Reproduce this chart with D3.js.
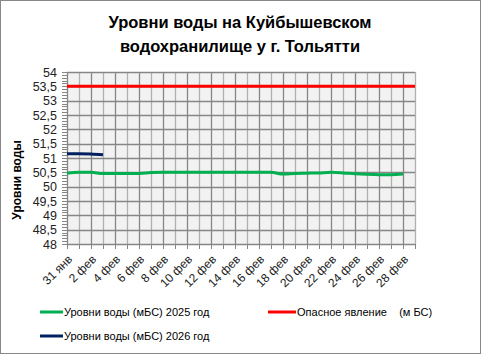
<!DOCTYPE html>
<html><head><meta charset="utf-8">
<script src="https://cdn.jsdelivr.net/npm/d3@7"></script>
<style>
body{margin:0;background:#fff;}
svg{display:block;font-family:"Liberation Sans",Arial,sans-serif;}
</style></head>
<body><svg id="c" width="481" height="354"></svg>
<script>
const categories = ["31 янв","1 фев","2 фев","3 фев","4 фев","5 фев","6 фев","7 фев","8 фев","9 фев","10 фев","11 фев","12 фев","13 фев","14 фев","15 фев","16 фев","17 фев","18 фев","19 фев","20 фев","21 фев","22 фев","23 фев","24 фев","25 фев","26 фев","27 фев","28 фев","1 мар"];
const levels2025 = [50.47,50.5,50.5,50.46,50.46,50.46,50.46,50.49,50.5,50.5,50.5,50.5,50.5,50.5,50.5,50.5,50.5,50.5,50.44,50.46,50.47,50.48,50.5,50.48,50.45,50.43,50.42,50.42,50.44];
const levels2026 = [51.15,51.15,51.14,51.11];
const danger = categories.map(() => 53.5);
const yTicks = [48,48.5,49,49.5,50,50.5,51,51.5,52,52.5,53,53.5,54];
const seriesNames = ["Уровни воды (мБС) 2025 год","Опасное явление    (м БС)","Уровни воды (мБС) 2026 год"];

const svg = d3.select("#c");
const L=67,R=415,T=72,B=244;
svg.append("rect").attr("x",0.5).attr("y",0.5).attr("width",480).attr("height",353).attr("fill","#fff").attr("stroke","#888");

const x = d3.scalePoint().domain(d3.range(categories.length)).range([L,R]);
const y = d3.scaleLinear().domain([48,54]).range([B,T]);

svg.append("rect").attr("x",L).attr("y",T).attr("width",R-L).attr("height",B-T).attr("fill","#f2f2f2");

// vertical gridlines
svg.append("g").selectAll("line").data(d3.range(categories.length)).join("line")
  .attr("x1",d=>x(d)+0.5).attr("x2",d=>x(d)+0.5).attr("y1",T).attr("y2",B)
  .attr("stroke",d=>d%2===0?"#868686":"#b0b0b0").attr("stroke-width",1.3);
// horizontal gridlines
svg.append("g").selectAll("line").data(yTicks).join("line")
  .attr("x1",L).attr("x2",R).attr("y1",d=>Math.round(y(d))+0.5).attr("y2",d=>Math.round(y(d))+0.5)
  .attr("stroke","#868686").attr("stroke-width",1.3);

// y axis
svg.append("line").attr("x1",L+0.5).attr("x2",L+0.5).attr("y1",T).attr("y2",B).attr("stroke","#868686");
const minor = d3.range(48,54.001,0.1);
svg.append("g").selectAll("line").data(minor).join("line")
  .attr("x1",L-5).attr("x2",L).attr("y1",d=>Math.round(y(d))+0.5).attr("y2",d=>Math.round(y(d))+0.5)
  .attr("stroke","#868686");
svg.append("g").selectAll("text").data(yTicks).join("text")
  .attr("x",57).attr("y",d=>y(d)+4.5).attr("text-anchor","end")
  .attr("font-size",12.5).attr("fill","#222")
  .text(d=>String(d).replace(".",","));

// x axis
svg.append("line").attr("x1",L).attr("x2",R).attr("y1",B+0.5).attr("y2",B+0.5).attr("stroke","#868686");
svg.append("g").selectAll("line").data(d3.range(categories.length)).join("line")
  .attr("x1",d=>x(d)+0.5).attr("x2",d=>x(d)+0.5).attr("y1",B).attr("y2",B+5).attr("stroke","#868686");
svg.append("g").selectAll("text").data(d3.range(0,categories.length,2).filter(i=>i<29)).join("text")
  .attr("transform",d=>`translate(${x(d)+6},${B+16}) rotate(-45)`)
  .attr("text-anchor","end").attr("font-size",12).attr("fill","#222")
  .text(d=>categories[d]);

// lines
const line = d3.line().x((d,i)=>x(i)).y(d=>y(d)).curve(d3.curveMonotoneX);
svg.append("path").datum(danger).attr("d",line).attr("fill","none").attr("stroke","#ff0000").attr("stroke-width",3);
svg.append("path").datum(levels2025).attr("d",line).attr("fill","none").attr("stroke","#00b050").attr("stroke-width",3);
svg.append("path").datum(levels2026).attr("d",line).attr("fill","none").attr("stroke","#002060").attr("stroke-width",3);

// title
svg.append("text").attr("x",240).attr("y",28).attr("text-anchor","middle").attr("font-weight","bold").attr("font-size",16.5).attr("fill","#000").text("Уровни воды на Куйбышевском");
svg.append("text").attr("x",240).attr("y",52).attr("text-anchor","middle").attr("font-weight","bold").attr("font-size",16.5).attr("fill","#000").text("водохранилище у г. Тольятти");

// y title
svg.append("text").attr("transform","translate(21,180) rotate(-90)").attr("text-anchor","middle")
  .attr("font-weight","bold").attr("font-size",12).attr("fill","#000").text("Уровни воды");

// legend
const leg = [
  {name:seriesNames[0],color:"#00b050",x1:40,x2:63,ty:312},
  {name:seriesNames[1],color:"#ff0000",x1:268,x2:296,ty:312},
  {name:seriesNames[2],color:"#002060",x1:40,x2:63,ty:336}
];
const lg = svg.append("g").selectAll("g").data(leg).join("g");
lg.append("line").attr("x1",d=>d.x1).attr("x2",d=>d.x2).attr("y1",d=>d.ty).attr("y2",d=>d.ty).attr("stroke",d=>d.color).attr("stroke-width",3);
lg.append("text").attr("x",d=>d.x2+1).attr("y",d=>d.ty+4).attr("font-size",11).attr("fill","#000").attr("xml:space","preserve").style("white-space","pre").text(d=>d.name);
</script></body></html>
